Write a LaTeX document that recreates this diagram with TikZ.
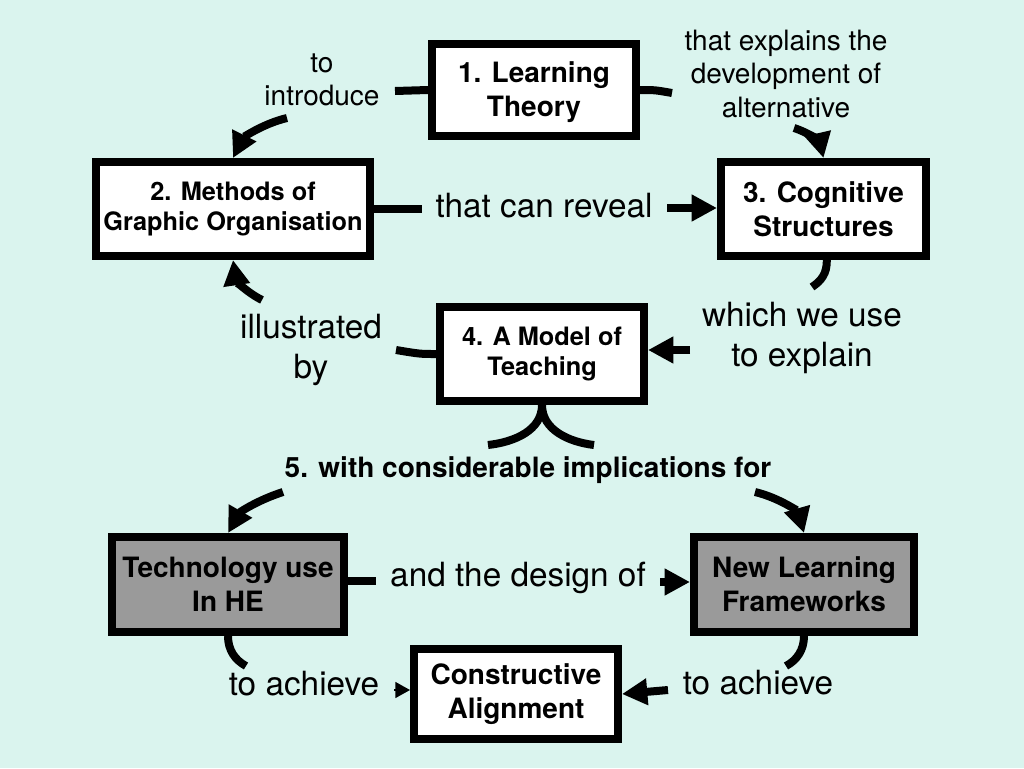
\documentclass[tikz,border=0pt]{standalone}
\usepackage{fontspec}
\setmainfont{TeX Gyre Heros}
\usetikzlibrary{arrows.meta}
\definecolor{mint}{HTML}{DAF4EE}
\definecolor{boxgrey}{HTML}{9A9A9A}
\tikzset{every picture/.style={line width=0.75pt}}
\tikzset{
  box/.style={draw, line width=6pt, fill=white, inner sep=0pt, align=center, font=\bfseries\fontsize{21}{25.5}\selectfont},
  greybox/.style={box, fill=boxgrey},
  lbl/.style={inner sep=0.75pt, align=center, font=\fontsize{21}{25}\selectfont},
  biglbl/.style={inner sep=0.75pt, align=center, font=\fontsize{25}{30}\selectfont},
  link/.style={line width=6pt},
  arrow/.style={line width=6pt, -{Triangle[length=19pt,width=19pt]}},
  smallarrow/.style={line width=1pt, -{Triangle[length=11pt,width=12pt]}},
}

\begin{document}
\begin{tikzpicture}[x=0.75pt,y=0.75pt,yscale=-1,xscale=1]
%background
\fill[mint] (0,0) rectangle (1024,768);
\useasboundingbox (0,0) rectangle (1024,768);

%Boxes
\node[box, minimum width=153pt, minimum height=69pt, text depth=2pt] (theory) at (534,90) {1. Learning\\Theory};
\node[box, minimum width=205.5pt, minimum height=70.5pt, font=\bfseries\fontsize{19}{22.5}\selectfont] (methods) at (233,209) {2. Methods of\\Graphic Organisation};
\node[box, minimum width=153.75pt, minimum height=70.5pt] (cognitive) at (823.5,209) {3. Cognitive\\Structures};
\node[box, minimum width=153pt, minimum height=70.5pt, font=\bfseries\fontsize{19}{22.5}\selectfont] (model) at (542,354) {4. A Model of\\Teaching};
\node[greybox, minimum width=174pt, minimum height=71.25pt] (tech) at (228,584.5) {Technology use\\In HE};
\node[greybox, minimum width=165pt, minimum height=71.25pt] (frame) at (804,584.5) {New Learning\\Frameworks};
\node[box, minimum width=153pt, minimum height=67.5pt] (align) at (516,694) {Constructive\\Alignment};

% Text Node
\node[lbl] (intro) at (322,80) {to\\introduce};
\node[lbl] (explain) at (786,74) {that explains the\\development of\\alternative};
\node[biglbl] (reveal) at (544,206) {that can reveal};
\node[biglbl] (use) at (802,338) {which we use\\to explain};
\node[biglbl] (illus) at (311,350) {illustrated\\by};
\node[lbl, font=\bfseries\fontsize{21}{25}\selectfont] (impl) at (528,470) {5. with considerable implications for};
\node[biglbl] (design) at (518,578) {and the design of};
\node[biglbl] (ach1) at (304,684) {to achieve};
\node[biglbl] (ach2) at (758,683) {to achieve};

%to introduce
\coordinate (t1) at (395,91);
\coordinate (t1b) at (287,118);
\draw[link] (theory.west) -- (t1);
\draw[arrow] (t1b) .. controls (262,124) and (243,138) .. (methods.north);

%that explains
\coordinate (t2) at (672,93);
\coordinate (t2b) at (794,128);
\draw[link] (theory.east) .. controls (655,90) .. (t2);
\draw[arrow] (t2b) .. controls (810,133) and (820,143) .. (cognitive.north);

%that can reveal
\coordinate (t3) at (422,209);
\coordinate (t3b) at (667,208);
\draw[link] (methods.east) -- (t3);
\draw[arrow] (t3b) -- (cognitive.west |- t3b);

%which we use
\coordinate (t4) at (812,287);
\coordinate (t4b) at (690,350);
\draw[link] ([xshift=2.5pt]cognitive.south) .. controls (827,274) and (821,281) .. (t4);
\draw[arrow] (t4b) -- (model.east |- t4b);

%illustrated by
\coordinate (t5) at (396,350);
\coordinate (t5b) at (262,300);
\draw[link] (model.west) .. controls (420,354) .. (t5);
\draw[arrow] (t5b) .. controls (246,292) and (236,280) .. (methods.south);

%fork
\coordinate (f1) at (488,445);
\coordinate (f2) at (594,445);
\draw[link] (model.south) .. controls (542,430) and (515,442) .. (f1);
\draw[link] (model.south) .. controls (542,430) and (569,442) .. (f2);

%implications
\coordinate (t6a) at (283,492);
\coordinate (t6b) at (755,492);
\draw[arrow] (t6a) .. controls (258,500) and (240,512) .. (tech.north);
\draw[arrow] (t6b) .. controls (780,498) and (798,512) .. (frame.north);

%and the design of
\coordinate (t7) at (376,581);
\coordinate (t7b) at (660,582);
\draw[link] (tech.east |- t7) -- (t7);
\draw[arrow] (t7b) -- (frame.west |- t7b);

%to achieve
\coordinate (t8) at (246,666);
\coordinate (t8b) at (394,690);
\draw[link] (tech.south) .. controls (228,650) and (235,660) .. (t8);
\draw[smallarrow] (t8b) -- (align.west |- t8b);
\coordinate (t9) at (786,666);
\coordinate (t9b) at (668,690);
\draw[link] (frame.south) .. controls (804,650) and (797,660) .. (t9);
\draw[arrow] (t9b) -- (align.east);

\end{tikzpicture}
\end{document}
